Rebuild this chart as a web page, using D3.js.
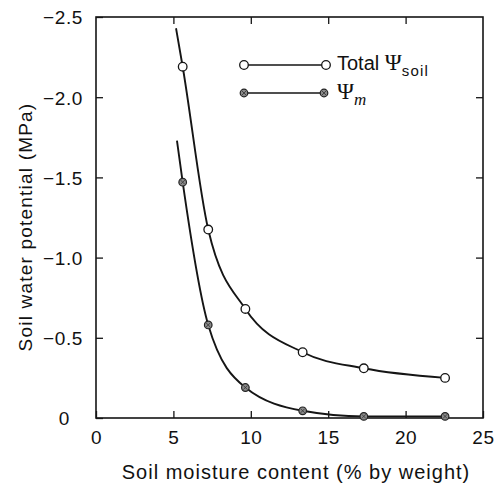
<!DOCTYPE html>
<html>
<head>
<meta charset="utf-8">
<script src="https://cdn.jsdelivr.net/npm/d3@7"></script>
<style>
  html, body { margin: 0; padding: 0; background: #fff; }
  svg text { font-family: "Liberation Sans", Arial, sans-serif; fill: #111; }
  svg .serif { font-family: "Liberation Serif", "Times New Roman", serif; }
</style>
</head>
<body>
<svg id="chart" width="498" height="487"></svg>
<script>
// Soil moisture content (% by weight) at each sample
const moisture = [5.6, 7.25, 9.65, 13.35, 17.3, 22.55];
// Total soil water potential (MPa)
const totalPsi = [-2.19, -1.175, -0.68, -0.41, -0.31, -0.25];
// Matric potential (MPa)
const matricPsi = [-1.47, -0.58, -0.19, -0.045, -0.01, -0.01];
// Where each fitted curve begins above its first sample
const totalCurveStart = [5.17, -2.43];
const matricCurveStart = [5.23, -1.73];

const xTicks = [0, 5, 10, 15, 20, 25];
const yTicks = [0, -0.5, -1.0, -1.5, -2.0, -2.5];

const svg = d3.select("#chart");
const plotL = 96, plotR = 483, plotT = 17, plotB = 418;

const x = d3.scaleLinear().domain([0, 25]).range([plotL, plotR]);
const y = d3.scaleLinear().domain([0, -2.5]).range([plotB, plotT]);

const ink = "#151515";
const fmtY = v => v === 0 ? "0" : d3.format(".1f")(v);

// Frame
svg.append("rect")
  .attr("x", plotL).attr("y", plotT)
  .attr("width", plotR - plotL).attr("height", plotB - plotT)
  .attr("fill", "none").attr("stroke", ink).attr("stroke-width", 1.6);

// Axes with inward ticks on all four sides
const tl = 7;
const bottomAxis = d3.axisBottom(x).tickValues(xTicks).tickSizeInner(-tl).tickSizeOuter(0).tickPadding(13).tickFormat(d3.format("d"));
const topAxis = d3.axisTop(x).tickValues(xTicks.slice(1, -1)).tickSizeInner(-tl).tickSizeOuter(0).tickFormat("");
const leftAxis = d3.axisLeft(y).tickValues(yTicks).tickSizeInner(-tl).tickSizeOuter(0).tickPadding(13).tickFormat(fmtY);
const rightAxis = d3.axisRight(y).tickValues(yTicks.slice(1, -1)).tickSizeInner(-tl).tickSizeOuter(0).tickFormat("");

function styleAxis(g) {
  g.select(".domain").remove();
  g.selectAll(".tick line").attr("stroke", ink).attr("stroke-width", 1.3);
  g.selectAll(".tick text")
    .style("font-size", "19px")
    .style("letter-spacing", "0.6px")
    .attr("fill", ink);
}

svg.append("g").attr("transform", `translate(0,${plotB})`).call(bottomAxis).call(styleAxis);
svg.append("g").attr("transform", `translate(0,${plotT})`).call(topAxis).call(styleAxis);
svg.append("g").attr("transform", `translate(${plotL},0)`).call(leftAxis).call(styleAxis)
  .selectAll(".tick text").attr("dy", "0.36em")
  .attr("dx", d => d === 0 ? -13 : 0);
svg.append("g").attr("transform", `translate(${plotR},0)`).call(rightAxis).call(styleAxis);

// Axis titles
svg.append("text")
  .attr("x", 296).attr("y", 479)
  .attr("text-anchor", "middle")
  .style("font-size", "20px").style("letter-spacing", "1px")
  .text("Soil moisture content (% by weight)");

svg.append("text")
  .attr("transform", "translate(32,227) rotate(-90)")
  .attr("text-anchor", "middle")
  .style("font-size", "19px").style("letter-spacing", "1.2px")
  .text("Soil water potential (MPa)");

// Curves
const line = d3.line()
  .x(d => x(d[0])).y(d => y(d[1]))
  .curve(d3.curveMonotoneX);

const totalPts = moisture.map((m, i) => [m, totalPsi[i]]);
const matricPts = moisture.map((m, i) => [m, matricPsi[i]]);

svg.append("path")
  .attr("d", line([totalCurveStart, ...totalPts]))
  .attr("fill", "none").attr("stroke", ink).attr("stroke-width", 1.9);
svg.append("path")
  .attr("d", line([matricCurveStart, ...matricPts]))
  .attr("fill", "none").attr("stroke", ink).attr("stroke-width", 1.9);

// Markers
function openMarker(sel) {
  sel.attr("r", 4.3).attr("fill", "#fff").attr("stroke", ink).attr("stroke-width", 1.3);
}
function hatchedMarker(g, cx, cy) {
  g.append("circle").attr("cx", cx).attr("cy", cy).attr("r", 3.8)
    .attr("fill", "#8a8a8a").attr("stroke", "#222").attr("stroke-width", 1.2);
  g.append("path")
    .attr("d", `M${cx - 2.2},${cy - 2.2}L${cx + 2.2},${cy + 2.2}M${cx - 2.2},${cy + 2.2}L${cx + 2.2},${cy - 2.2}`)
    .attr("stroke", "#333").attr("stroke-width", 0.8);
}

svg.append("g").selectAll("circle").data(totalPts).join("circle")
  .attr("cx", d => x(d[0])).attr("cy", d => y(d[1])).call(openMarker);

const mg = svg.append("g");
matricPts.forEach(d => hatchedMarker(mg, x(d[0]), y(d[1])));

// Legend
const leg = svg.append("g");
const lx0 = 244, lx1 = 326, ly1 = 65, ly2 = 93;
leg.append("line").attr("x1", lx0).attr("x2", lx1).attr("y1", ly1).attr("y2", ly1)
  .attr("stroke", ink).attr("stroke-width", 1.4);
leg.append("circle").attr("cx", lx0).attr("cy", ly1).call(openMarker);
leg.append("circle").attr("cx", lx1).attr("cy", ly1).call(openMarker);
leg.append("line").attr("x1", lx0).attr("x2", lx1 - 2).attr("y1", ly2).attr("y2", ly2)
  .attr("stroke", ink).attr("stroke-width", 1.4);
hatchedMarker(leg, lx0, ly2);
hatchedMarker(leg, lx1 - 2, ly2);

const t1 = leg.append("text").attr("x", 337).attr("y", 70).style("font-size", "20px");
t1.append("tspan").text("Total ");
t1.append("tspan").attr("class", "serif").style("font-size", "23px").text("\u03A8");
t1.append("tspan").attr("dy", 6).style("font-size", "15px").style("letter-spacing", "1.2px").text("soil");

const t2 = leg.append("text").attr("x", 337).attr("y", 99).style("font-size", "20px");
t2.append("tspan").attr("class", "serif").style("font-size", "23px").text("\u03A8");
t2.append("tspan").attr("class", "serif").attr("dy", 6).style("font-size", "17px").style("font-style", "italic").text("m");
</script>
</body>
</html>
